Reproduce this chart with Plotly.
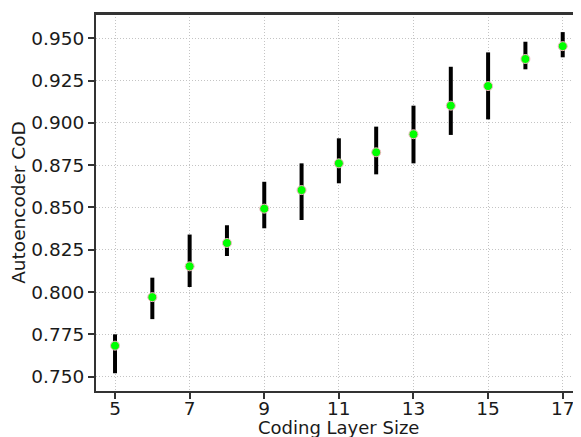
import plotly.graph_objects as go

layer_size = [5, 6, 7, 8, 9, 10, 11, 12, 13, 14, 15, 16, 17]
cod_mean = [0.7683, 0.7970, 0.8152, 0.8290, 0.8493, 0.8603, 0.8761, 0.8826, 0.8933, 0.9102, 0.9218, 0.9378, 0.9454]
cod_upper = [0.7750, 0.8085, 0.8340, 0.8395, 0.8652, 0.8761, 0.8909, 0.8978, 0.9102, 0.9332, 0.9417, 0.9480, 0.9537]
cod_lower = [0.7520, 0.7840, 0.8030, 0.8213, 0.8377, 0.8426, 0.8643, 0.8696, 0.8761, 0.8929, 0.9021, 0.9317, 0.9388]

err_plus = [u - m for u, m in zip(cod_upper, cod_mean)]
err_minus = [m - l for m, l in zip(cod_mean, cod_lower)]

fig = go.Figure()
fig.add_trace(go.Scatter(
    x=layer_size, y=cod_mean, mode="markers",
    marker=dict(color="#00ff00", size=9, line=dict(color="#f4b6c2", width=1)),
    error_y=dict(type="data", symmetric=False, array=err_plus, arrayminus=err_minus,
                 color="black", thickness=4, width=0),
    showlegend=False,
))

font = dict(family="DejaVu Sans", size=18.5, color="#1a1a1a")
title_font = dict(family="DejaVu Sans", size=18, color="#1a1a1a")
# page body has an 8px default margin, so the figure is sized to end at the window edge
fig.update_layout(
    width=573, height=429,
    margin=dict(l=88, r=0, t=6, b=46, autoexpand=False),
    paper_bgcolor="white", plot_bgcolor="white",
    font=font,
    shapes=[dict(type="line", xref="paper", yref="paper", x0=0, x1=1, y0=1, y1=1,
                 line=dict(color="#333333", width=2))],
    annotations=[dict(text="Coding Layer Size", xref="paper", yref="paper", x=0.5, y=0,
                      xanchor="center", yanchor="middle", yshift=-36, showarrow=False,
                      font=title_font)],
)
fig.update_xaxes(
    range=[4.49, 17.49], tickvals=[5, 7, 9, 11, 13, 15, 17],
    showgrid=True, gridcolor="#c4c4c4", griddash="1px,2px", gridwidth=1,
    showline=True, linecolor="#333333", linewidth=2, mirror=True,
    ticks="outside", ticklen=6, tickwidth=1.5, tickcolor="#333333",
    ticklabelstandoff=-6,
    zeroline=False, automargin=False,
    tickfont=font,
)
fig.update_yaxes(
    range=[0.7415, 0.9644], tickvals=[0.750, 0.775, 0.800, 0.825, 0.850, 0.875, 0.900, 0.925, 0.950],
    tickformat=".3f",
    showgrid=True, gridcolor="#c4c4c4", griddash="1px,2px", gridwidth=1,
    showline=True, linecolor="#333333", linewidth=2, mirror=False,
    ticks="outside", ticklen=6, tickwidth=1.5, tickcolor="#333333",
    zeroline=False, automargin=False,
    title=dict(text="Autoencoder CoD", standoff=4, font=font),
    tickfont=font,
)
fig.write_html("out.html")
